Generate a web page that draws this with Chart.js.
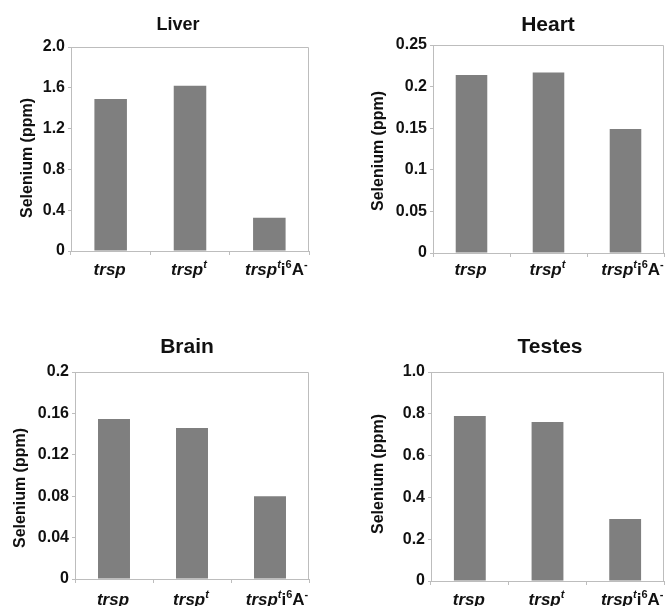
<!DOCTYPE html>
<html>
<head>
<meta charset="utf-8">
<script src="https://cdn.jsdelivr.net/npm/chart.js@4"></script>
<style>
  html, body { margin: 0; padding: 0; background: #fff; overflow: hidden; }
  body { width: 665px; height: 606px; position: relative; }
  .panel { position: absolute; }
</style>
</head>
<body>
<div class="panel" id="liverBox"><canvas id="liver"></canvas></div>
<div class="panel" id="heartBox"><canvas id="heart"></canvas></div>
<div class="panel" id="brainBox"><canvas id="brain"></canvas></div>
<div class="panel" id="testesBox"><canvas id="testes"></canvas></div>
<script>
// categories (plain) and how each one is typeset under the axis
const categories = ['trsp', 'trsp t', 'trsp t i6A-'];
// i = italic, is = italic superscript, n = upright, s = upright superscript
const categoryParts = [
  [['trsp', 'i']],
  [['trsp', 'i'], ['t', 'is']],
  [['trsp', 'i'], ['t', 'is'], ['i', 'n'], ['6', 's'], ['A', 'n'], ['-', 's']]
];
const labelShift = [-1, -1, 7];

const liverValues = [1.49, 1.62, 0.325];
const heartValues = [0.214, 0.217, 0.149];
const brainValues = [0.1545, 0.146, 0.080];
const testesValues = [0.789, 0.761, 0.297];

const liverTicks = ['0', '0.4', '0.8', '1.2', '1.6', '2.0'];
const heartTicks = ['0', '0.05', '0.1', '0.15', '0.2', '0.25'];
const brainTicks = ['0', '0.04', '0.08', '0.12', '0.16', '0.2'];
const testesTicks = ['0', '0.2', '0.4', '0.6', '0.8', '1.0'];

const titles = ['Liver', 'Heart', 'Brain', 'Testes'];
const yTitle = 'Selenium (ppm)';

// page layout, in page pixels
const panels = [
  { id: 'liver', box: [0, 0, 332, 300], plot: [71, 47, 309, 251], title: [178, 25, 18], yT: [28, 158], labelY: 270, values: liverValues, ticks: liverTicks },
  { id: 'heart', box: [332, 0, 333, 300], plot: [433, 45, 664, 253], title: [548, 25, 21], yT: [379, 151], labelY: 270, values: heartValues, ticks: heartTicks },
  { id: 'brain', box: [0, 300, 332, 306], plot: [75, 372, 309, 579], title: [187, 347, 21], yT: [21, 488], labelY: 600, values: brainValues, ticks: brainTicks },
  { id: 'testes', box: [332, 300, 333, 306], plot: [431, 372, 664, 581], title: [550, 347, 21], yT: [379, 474], labelY: 600, values: testesValues, ticks: testesTicks }
];

const FONT = "'Liberation Sans', Arial, sans-serif";
const TEXT = '#111';
const LINE = '#bdbdbd';

const panelText = {
  id: 'panelText',
  afterDraw(chart, args, opts) {
    const ctx = chart.ctx;
    const ca = chart.chartArea;
    const ox = opts.ox, oy = opts.oy;
    ctx.save();
    // frame top and right
    ctx.strokeStyle = LINE;
    ctx.lineWidth = 1;
    ctx.beginPath();
    ctx.moveTo(ca.left, ca.top + 0.5);
    ctx.lineTo(ca.right - 0.5, ca.top + 0.5);
    ctx.lineTo(ca.right - 0.5, ca.bottom);
    ctx.stroke();

    ctx.fillStyle = TEXT;
    ctx.textBaseline = 'middle';
    // panel title
    ctx.textAlign = 'center';
    ctx.font = `bold ${opts.titleSize}px ${FONT}`;
    ctx.fillText(opts.title, opts.titleX - ox, opts.titleY - oy);

    // y title
    ctx.save();
    ctx.translate(opts.yTX - ox, opts.yTY - oy);
    ctx.rotate(-Math.PI / 2);
    ctx.font = `bold 16px ${FONT}`;
    ctx.fillText(yTitle, 0, 0);
    ctx.restore();

    // category labels with superscripts
    const xs = chart.scales.x;
    categoryParts.forEach((parts, i) => {
      const fonts = parts.map(([t, s]) => {
        const it = s === 'i' || s === 'is' ? 'italic ' : '';
        const size = s === 's' || s === 'is' ? 11 : 17;
        return `${it}bold ${size}px ${FONT}`;
      });
      let w = 0;
      parts.forEach(([t], k) => { ctx.font = fonts[k]; w += ctx.measureText(t).width; });
      let x = xs.getPixelForValue(i) - w / 2 + labelShift[i];
      const y = opts.labelY - oy;
      ctx.textAlign = 'left';
      parts.forEach(([t, s], k) => {
        ctx.font = fonts[k];
        const sup = s === 's' || s === 'is';
        ctx.fillText(t, x, sup ? y - 5 : y);
        x += ctx.measureText(t).width;
      });
    });
    ctx.restore();
  }
};

panels.forEach((p, n) => {
  const [bx, by, bw, bh] = p.box;
  const [pl, pt, pr, pb] = p.plot;
  const div = document.getElementById(p.id + 'Box');
  div.style.left = bx + 'px';
  div.style.top = by + 'px';
  div.style.width = bw + 'px';
  div.style.height = bh + 'px';
  const canvas = document.getElementById(p.id);
  canvas.width = bw;
  canvas.height = bh;

  const yWidth = pl - bx;
  const xHeight = by + bh - pb;
  const tickVals = p.ticks.map(t => parseFloat(t));

  new Chart(canvas.getContext('2d'), {
    type: 'bar',
    data: {
      labels: categories,
      datasets: [{
        data: p.values,
        backgroundColor: '#7f7f7f',
        borderWidth: 0,
        barPercentage: 0.41,
        categoryPercentage: 1
      }]
    },
    options: {
      responsive: false,
      animation: false,
      layout: { padding: { top: pt - by, right: bx + bw - pr, bottom: 0, left: 0 } },
      plugins: {
        legend: { display: false },
        tooltip: { enabled: false },
        panelText: {
          ox: bx, oy: by,
          title: titles[n], titleX: p.title[0], titleY: p.title[1], titleSize: p.title[2],
          yTX: p.yT[0], yTY: p.yT[1], labelY: p.labelY
        }
      },
      scales: {
        x: {
          ticks: { display: false },
          grid: { offset: true, drawOnChartArea: false, tickLength: 4, color: LINE },
          border: { display: true, color: LINE },
          afterFit: s => { s.height = xHeight; }
        },
        y: {
          min: 0,
          max: tickVals[tickVals.length - 1],
          afterBuildTicks: s => { s.ticks = tickVals.map(v => ({ value: v })); },
          ticks: {
            callback: (v, i) => p.ticks[i],
            color: TEXT,
            padding: 3,
            font: { family: FONT, size: 16, weight: 'bold' }
          },
          grid: { drawOnChartArea: false, tickLength: 3, color: LINE },
          border: { display: true, color: LINE },
          afterFit: s => { s.width = yWidth; }
        }
      }
    },
    plugins: [panelText]
  });
});
</script>
</body>
</html>
